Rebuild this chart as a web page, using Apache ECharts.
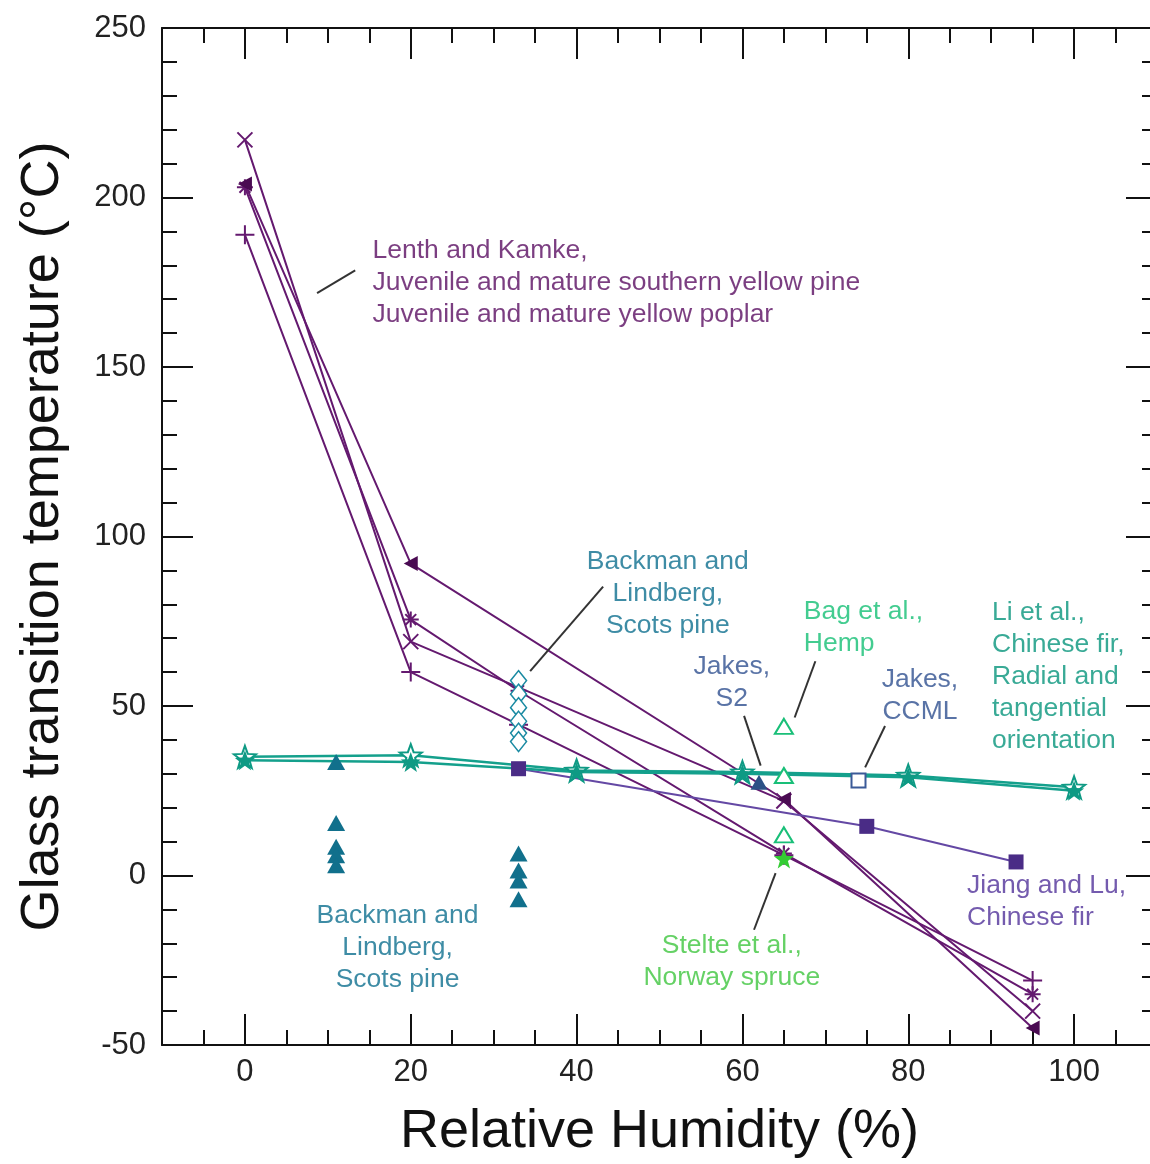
<!DOCTYPE html>
<html><head><meta charset="utf-8">
<script src="https://cdn.jsdelivr.net/npm/echarts@6/dist/echarts.min.js"></script>
<style>
html,body{margin:0;padding:0;background:#fff;overflow:hidden;width:1150px;height:1164px}
#wrap{position:relative;width:1150px;height:1164px;overflow:hidden}
#c{position:absolute;left:0;top:0;width:1160px;height:1164px}
</style>
</head><body><div id="wrap"><div id="c"></div></div>
<script>
// ---------- axis ticks ----------
const xMajorTicks = [0, 20, 40, 60, 80, 100];
const xMinorTicks = [-5, 5, 10, 15, 25, 30, 35, 45, 50, 55, 65, 70, 75, 85, 90, 95, 105];
const yMajorTicks = [-50, 0, 50, 100, 150, 200, 250];
const yMinorTicks = [-40, -30, -20, -10, 10, 20, 30, 40, 60, 70, 80, 90, 110, 120, 130, 140, 160, 170, 180, 190, 210, 220, 230, 240];

// ---------- data (RH %, Tg °C) ----------
const lenthCross    = [[0, 217], [20, 69], [33, 55.5], [65, 22], [95, -40]];
const lenthTriangle = [[0, 204], [20, 92], [65, 22.5], [95, -45]];
const lenthPlus     = [[0, 189], [20, 60], [33, 44.5], [65, 6], [95, -31]];
const lenthStar     = [[0, 203], [20, 75.5], [33, 54.5], [65, 6.5], [95, -35]];
const jiangLu       = [[33, 31.5], [75, 14.5], [93, 4]];
const liRadial      = [[0, 35], [20, 35.5], [40, 31], [60, 30.5], [80, 29.5], [100, 26]];
const liTangential  = [[0, 34], [20, 33.5], [40, 30.5], [60, 30], [80, 29], [100, 25]];
const backmanTri    = [[11, 33.5], [11, 15.5], [11, 8.5], [11, 6], [11, 3], [33, 6.5], [33, 1.5], [33, -1.5], [33, -7]];
const backmanDia    = [[33, 57.5], [33, 53.5], [33, 49.5], [33, 45.5], [33, 42], [33, 39.5]];
const bagHemp       = [[65, 44], [65, 29.5], [65, 12]];
const jakesS2       = [[62, 27.5]];
const jakesCCML     = [[74, 28]];
const stelte        = [[65, 5]];

// callout leader lines (data units)
const calloutLines = [
  [[8.7, 171.8], [13.3, 178.5]],
  [[34.4, 60.3], [43.2, 85.2]],
  [[60.2, 47.1], [62.2, 32.4]],
  [[68.8, 63.2], [66.3, 46.6]],
  [[77.2, 44.1], [74.8, 31.9]],
  [[64.0, 0.7], [61.4, -16]]
];

// annotation texts and their anchors (data units)
const annoTexts = [
  'Lenth and Kamke,\nJuvenile and mature southern yellow pine\nJuvenile and mature yellow poplar',
  'Backman and\nLindberg,\nScots pine',
  'Bag et al.,\nHemp',
  'Li et al.,\nChinese fir,\nRadial and\ntangential\norientation',
  'Jakes,\nS2',
  'Jakes,\nCCML',
  'Jiang and Lu,\nChinese fir',
  'Stelte et al.,\nNorway spruce',
  'Backman and\nLindberg,\nScots pine'
];
const annoAnchors = [
  [15.45, 188.8], [51.06, 97.2], [67.47, 82.3], [90.16, 82.0], [58.78, 66.2],
  [81.47, 62.3], [87.15, 1.6], [58.78, -16.0], [18.47, -7.2]
];

// ---------- styles ----------
const annoColors = ['#5a0e62', '#0e6f8e', '#14bf74', '#08957c', '#2f5090', '#2f5090', '#51329a', '#3fc53f', '#0e6f8e'];
const annoAlign  = ['left', 'center', 'left', 'left', 'center', 'center', 'left', 'center', 'center'];
const FONT = '"Liberation Sans", Arial, Helvetica, sans-serif';
const PURPLE = '#64196f';
const STAR = 'path://M50,0L62.34,33.01L97.55,34.55L69.02,56.18L79.39,90.45L50,70L20.61,90.45L30.98,56.18L2.45,34.55L37.66,33.01Z';
const CROSS = 'path://M0,0L10,10M10,0L0,10';
const PLUS = 'path://M5,0L5,10M0,5L10,5';
const ASTER = 'path://M5,0L5,10M0,5L10,5M1.6,1.6L8.4,8.4M8.4,1.6L1.6,8.4';
const LTRI = 'path://M0,5L10,0L10,10Z';

function xAx(pos, ticks, len, line, labels) {
  return {
    type: 'value', gridIndex: 0, position: pos, min: -10, max: 110,
    axisLine: { show: line, onZero: false, lineStyle: { color: '#111', width: 2 } },
    axisTick: { show: true, inside: true, length: len, customValues: ticks, lineStyle: { color: '#111', width: 2 } },
    axisLabel: labels ? { show: true, customValues: xMajorTicks, fontSize: 31, color: '#222', fontFamily: FONT, margin: 12 } : { show: false },
    splitLine: { show: false },
    name: labels ? 'Relative Humidity (%)' : '',
    nameLocation: 'middle', nameGap: 60,
    nameTextStyle: { fontSize: 54, color: '#111', fontFamily: FONT }
  };
}
function yAx(pos, ticks, len, line, labels) {
  return {
    type: 'value', gridIndex: 0, position: pos, min: -50, max: 250,
    axisLine: { show: line, onZero: false, lineStyle: { color: '#111', width: 2 } },
    axisTick: { show: true, inside: true, length: len, customValues: ticks, lineStyle: { color: '#111', width: 2 } },
    axisLabel: labels ? { show: true, customValues: yMajorTicks, fontSize: 31, color: '#222', fontFamily: FONT, margin: 16 } : { show: false },
    splitLine: { show: false },
    name: labels ? 'Glass transition temperature (°C)' : '',
    nameLocation: 'middle', nameGap: 92,
    nameTextStyle: { fontSize: 54, color: '#111', fontFamily: FONT }
  };
}

function lineSeries(data, symbol, size, color, lineColor, opts) {
  return Object.assign({
    type: 'line', data: data, symbol: symbol, symbolSize: size, z: 2,
    lineStyle: { color: lineColor, width: 2 },
    itemStyle: { color: color, borderColor: color, borderWidth: 2 },
    emphasis: { disabled: true }
  }, opts || {});
}
function scatter(data, symbol, size, fill, border, bw, z) {
  return {
    type: 'scatter', data: data, symbol: symbol, symbolSize: size, z: z || 4,
    itemStyle: { color: fill, borderColor: border, borderWidth: bw, opacity: 1 },
    emphasis: { disabled: true }
  };
}

const series = [
  lineSeries(lenthCross, CROSS, 15, PURPLE, PURPLE),
  lineSeries(lenthStar, ASTER, 16, PURPLE, PURPLE),
  lineSeries(lenthPlus, PLUS, 19, PURPLE, PURPLE),
  lineSeries(lenthTriangle, LTRI, [14, 15], '#4a0b52', PURPLE, { itemStyle: { color: '#4a0b52', borderWidth: 0 } }),
  lineSeries(jiangLu, 'rect', 15, '#4a2c86', '#6448a4', { itemStyle: { color: '#4a2c86', borderWidth: 0 }, z: 3 }),
  lineSeries(liRadial, STAR, 22, '#ffffff', '#14a08c', { itemStyle: { color: '#ffffff', borderColor: '#0e9a84', borderWidth: 2 }, lineStyle: { color: '#14a08c', width: 2.5 }, z: 3 }),
  lineSeries(liTangential, STAR, 20, '#0e9a84', '#14a08c', { itemStyle: { color: '#0e9a84', borderWidth: 0 }, lineStyle: { color: '#14a08c', width: 2.5 }, z: 3 }),
  scatter(backmanTri, 'triangle', [18, 16], '#11708c', '#11708c', 0),
  scatter(backmanDia, 'diamond', [16, 20], '#ffffff', '#1a8aa2', 1.5),
  scatter(bagHemp, 'triangle', [18, 15], '#ffffff', '#19bf78', 2),
  scatter(jakesS2, 'triangle', [17, 15], '#2b5186', '#2b5186', 0),
  scatter(jakesCCML, 'rect', 14, '#ffffff', '#3b5a98', 2),
  scatter(stelte, STAR, 20, '#33cc33', '#33cc33', 0, 5),
  {
    type: 'lines', coordinateSystem: 'cartesian2d', z: 4, silent: true,
    data: calloutLines.map(c => ({ coords: c })),
    lineStyle: { color: '#333', width: 2, opacity: 1 }, symbol: 'none'
  }
];
annoTexts.forEach((t, i) => {
  series.push({
    type: 'scatter', z: 6, silent: true, symbol: 'circle', symbolSize: 1,
    itemStyle: { color: 'rgba(0,0,0,0)' },
    data: [annoAnchors[i]],
    label: {
      show: true, position: [0, 0], formatter: t, align: annoAlign[i], verticalAlign: 'top',
      fontSize: 26.5, lineHeight: 32, color: annoColors[i], fontFamily: FONT
    }
  });
});

const chart = echarts.init(document.getElementById('c'), null, { renderer: 'canvas' });
chart.setOption({
  animation: false,
  backgroundColor: '#fff',
  grid: { left: 162, top: 28, right: 3, bottom: 113, containLabel: false },
  xAxis: [
    xAx('bottom', xMajorTicks, 31, true, true),
    xAx('bottom', xMinorTicks, 15, false, false),
    xAx('top', xMajorTicks, 31, true, false),
    xAx('top', xMinorTicks, 15, false, false)
  ],
  yAxis: [
    yAx('left', yMajorTicks, 31, true, true),
    yAx('left', yMinorTicks, 15, false, false),
    yAx('right', yMajorTicks, 31, true, false),
    yAx('right', yMinorTicks, 15, false, false)
  ],
  series: series
});
</script></body></html>
